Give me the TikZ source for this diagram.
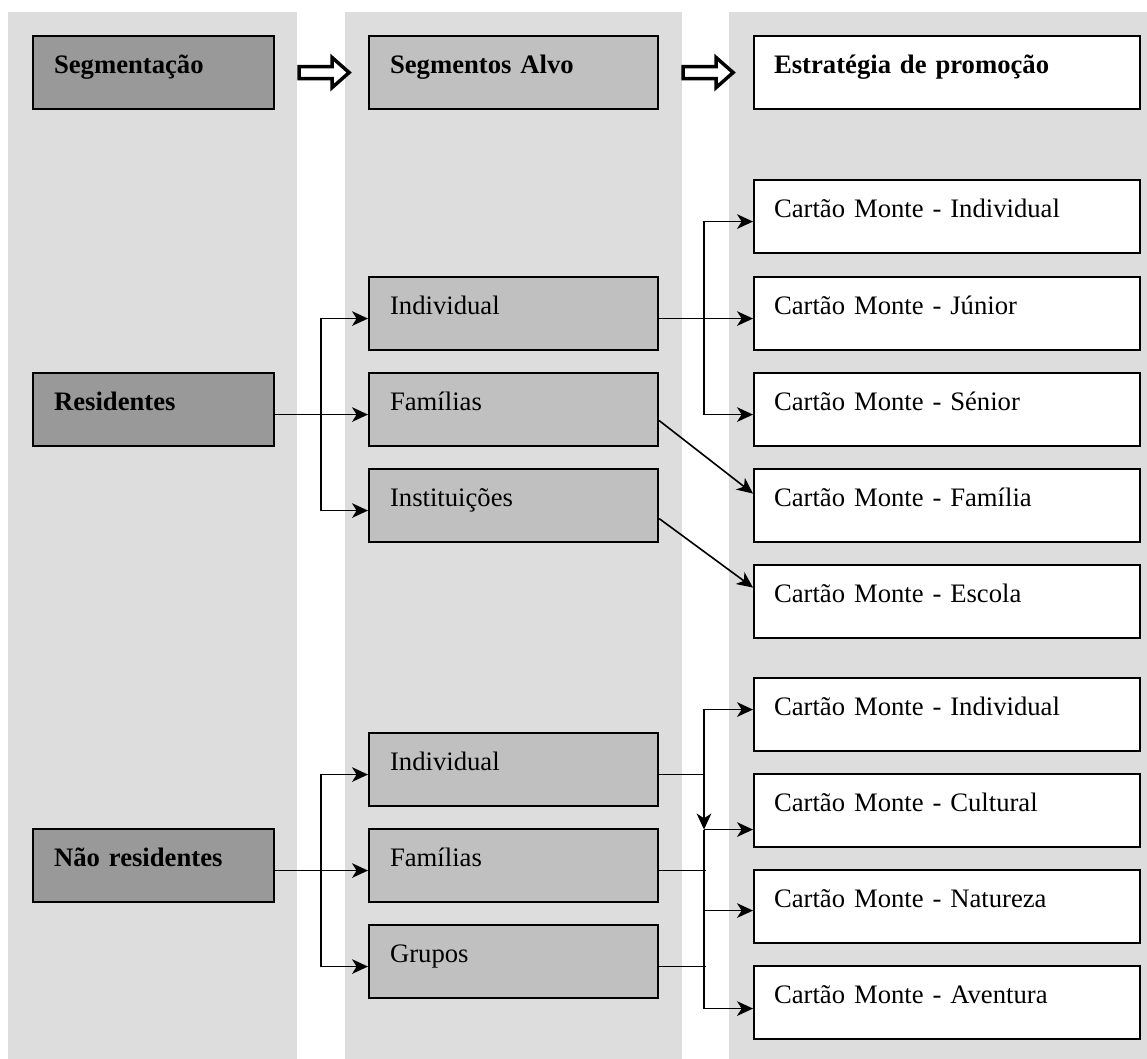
\documentclass[tikz,border=0pt]{standalone}
\usepackage{fontspec}
\setmainfont{Liberation Serif}
\usetikzlibrary{calc,arrows.meta}
\definecolor{colbg}{RGB}{221,221,221}
\definecolor{darkbox}{RGB}{153,153,153}
\definecolor{midbox}{RGB}{192,192,192}
\begin{document}
\begin{tikzpicture}[x=0.75pt,y=-0.75pt,
  txt/.style={font=\fontsize{20pt}{24pt}\selectfont},
  box/.style={draw, line width=1.6pt, anchor=north west, inner ysep=0pt,
    text height=27.75pt, text depth=27pt, align=left, txt},
  leftbox/.style={box, fill=darkbox, inner xsep=15.75pt, text width=149.25pt,
    font=\fontsize{20pt}{24pt}\selectfont\bfseries},
  midbox/.style={box, fill=midbox, inner xsep=15.75pt, text width=185.25pt},
  rightbox/.style={box, fill=white, inner xsep=15pt, text width=259.5pt},
  arr/.style={line width=1.2pt, -{Stealth[length=12pt, width=11pt, inset=3.5pt]}},
  conn/.style={line width=1.2pt},
  hollow/.style={draw, fill=white, line width=2.6pt, line join=miter}
]
\useasboundingbox (0,0) rectangle (1147,1059);
% column backgrounds
\fill[colbg] (8,12) rectangle (297,1059);
\fill[colbg] (345,12) rectangle (682,1059);
\fill[colbg] (729,12) rectangle (1147,1059);

% header row
\node[leftbox] (seg) at (32,35) {Segmentação};
\node[midbox, font=\fontsize{20pt}{24pt}\selectfont\bfseries] (alvo) at (368,35) {Segmentos Alvo};
\node[rightbox, font=\fontsize{20pt}{24pt}\selectfont\bfseries] (estr) at (753,35) {Estratégia de promoção};

% block arrows
\draw[hollow] ($(seg.east)+(24,-6)$) -- ++(33,0) -- ++(0,-9) -- ++(17,15) -- ++(-17,15) -- ++(0,-9) -- ++(-33,0) -- cycle;
\draw[hollow] ($(alvo.east)+(24,-6)$) -- ++(33,0) -- ++(0,-9) -- ++(17,15) -- ++(-17,15) -- ++(0,-9) -- ++(-33,0) -- cycle;

% left column
\node[leftbox] (res) at (32,372) {Residentes};
\node[leftbox] (nres) at (32,828) {Não residentes};

% middle column
\node[midbox] (ind1) at (368,276) {Individual};
\node[midbox] (fam1) at (368,372) {Famílias};
\node[midbox] (inst1) at (368,468) {Instituições};
\node[midbox] (ind2) at (368,732) {Individual};
\node[midbox] (fam2) at (368,828) {Famílias};
\node[midbox] (grp) at (368,924) {Grupos};

% right column
\node[rightbox] (c1) at (753,179) {Cartão Monte - Individual};
\node[rightbox] (c2) at (753,276) {Cartão Monte - Júnior};
\node[rightbox] (c3) at (753,372) {Cartão Monte - Sénior};
\node[rightbox] (c4) at (753,468) {Cartão Monte - Família};
\node[rightbox] (c5) at (753,564) {Cartão Monte - Escola};
\node[rightbox] (c6) at (753,677) {Cartão Monte - Individual};
\node[rightbox] (c7) at (753,773) {Cartão Monte - Cultural};
\node[rightbox] (c8) at (753,869) {Cartão Monte - Natureza};
\node[rightbox] (c9) at (753,965) {Cartão Monte - Aventura};

% junction columns
\coordinate (bxa) at (321,0);
\coordinate (bxb) at (704,0);

% residents: left connectors
\coordinate (r0) at ($(res.east)+(0,5)$);
\draw[arr] (r0) -- (r0 -| fam1.west);
\draw[arr] (r0 -| bxa) |- ($(ind1.west)+(0,5)$);
\draw[arr] (r0 -| bxa) |- ($(inst1.west)+(0,5)$);

% residents: right connectors
\coordinate (r1) at ($(ind1.east)+(0,5)$);
\draw[arr] (r1) -- (r1 -| c2.west);
\draw[arr] (r1 -| bxb) |- ($(c1.west)+(0,5)$);
\draw[arr] (r1 -| bxb) |- ($(c3.west)+(0,5)$);
\draw[arr] ($(fam1.east)+(0,11)$) -- ($(c4.west)+(0,-12)$);
\draw[arr] ($(inst1.east)+(0,13)$) -- ($(c5.west)+(0,-14)$);

% non-residents: left connectors
\coordinate (n0) at ($(nres.east)+(0,5)$);
\draw[arr] (n0) -- (n0 -| fam2.west);
\draw[arr] (n0 -| bxa) |- ($(ind2.west)+(0,5)$);
\draw[arr] (n0 -| bxa) |- ($(grp.west)+(0,5)$);

% non-residents: right connectors
\coordinate (n1) at ($(ind2.east)+(0,5)$);
\coordinate (k7) at ($(c7.west)+(0,19)$);
\draw[conn] (n1) -- (n1 -| bxb);
\draw[arr] (n1 -| bxb) |- ($(c6.west)+(0,-5)$);
\draw[arr] (n1 -| bxb) -- (k7 -| bxb);
\draw[arr] (k7 -| bxb) -- (k7);
\draw[conn] ($(fam2.east)+(0,5)$) -- ++(47,0);
\draw[conn] ($(grp.east)+(0,5)$) -- ++(47,0);
\draw[arr] (k7 -| bxb) |- ($(c8.west)+(0,4)$);
\draw[arr] (k7 -| bxb) |- ($(c9.west)+(0,6)$);
\end{tikzpicture}
\end{document}
